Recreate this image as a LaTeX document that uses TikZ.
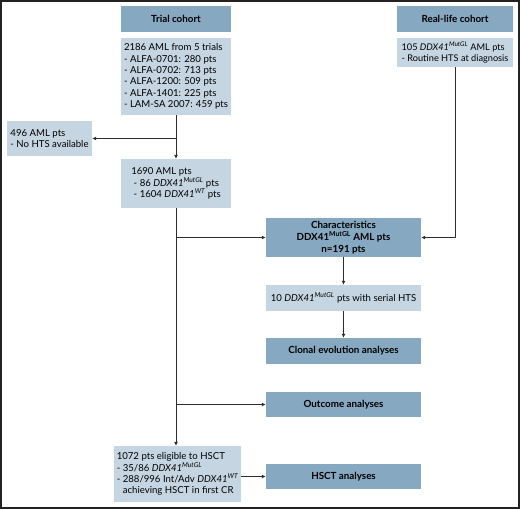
\documentclass[tikz,border=0pt]{standalone}
\usepackage{fontspec}
\setmainfont{Lato}
\usetikzlibrary{arrows.meta, positioning}
\definecolor{headblue}{RGB}{135, 168, 193}
\definecolor{boxblue}{RGB}{197, 213, 225}
\definecolor{linedark}{RGB}{45, 45, 45}
\definecolor{framedark}{RGB}{34, 34, 34}
\newcommand{\ddx}[1]{\textit{DDX41\textsuperscript{#1}}}

\begin{document}
\begin{tikzpicture}[
    x=1pt, y=-1pt,
    box/.style={rectangle, fill=boxblue, align=left, inner sep=2pt, font=\fontsize{9.6}{11.3}\selectfont, text=black},
    head/.style={rectangle, fill=headblue, align=center, inner sep=2pt, font=\fontsize{9.8}{12}\selectfont\bfseries, text=black},
    arrow/.style={-{Latex[length=4pt, width=4pt]}, line width=0.8pt, color=linedark},
]
\useasboundingbox (0,0) rectangle (520,509);
\draw[framedark, line width=2pt] (1,1) rectangle (518.5,507.5);

% Trial cohort
\node[head, minimum width=110pt, minimum height=26pt] (trial) at (176, 19) {Trial cohort};
\node[box, minimum width=110pt, minimum height=77pt] (triallist) at (176, 76.5) {2186 AML from 5 trials\\- ALFA-0701: 280 pts\\- ALFA-0702: 713 pts\\- ALFA-1200: 509 pts\\- ALFA-1401: 225 pts\\- LAM-SA 2007: 459 pts};
\node[box, minimum width=85pt, minimum height=35pt] (nohts) at (49.5, 138.5) {496 AML pts\\- No HTS available\hspace{6pt}};
\node[box, minimum width=110pt, minimum height=49pt] (aml) at (176, 183.5) {1690 AML pts\\\ - 86 \ddx{MutGL} pts\\\ - 1604 \ddx{WT} pts};

% Real-life cohort
\node[head, minimum width=116pt, minimum height=26pt] (real) at (455, 19) {Real-life cohort};
\node[box, minimum width=116pt, minimum height=29pt, inner sep=1pt, font=\fontsize{9.2}{11.3}\selectfont] (reallist) at (455, 52.5) {105 \ddx{MutGL} AML pts\\- Routine HTS at diagnosis};

% Analyses
\node[head, minimum width=155pt, minimum height=39pt] (charac) at (343.5, 237.5) {Characteristics\\DDX41\textsuperscript{MutGL} AML pts\\n=191 pts};
\node[box, align=center, minimum width=155pt, minimum height=26pt] (serial) at (343.5, 298) {10 \ddx{MutGL} pts with serial HTS};
\node[head, minimum width=155pt, minimum height=26pt] (clonal) at (343.5, 351) {Clonal evolution analyses};
\node[head, minimum width=155pt, minimum height=25pt] (outcome) at (343.5, 404.5) {Outcome analyses};
\node[box, minimum width=127pt, minimum height=56pt] (eligible) at (177.5, 474) {1072 pts eligible to HSCT\\- 35/86 \ddx{MutGL}\\- 288/996 Int/Adv \ddx{WT}\\\phantom{- }achieving HSCT in first CR};
\node[head, minimum width=155pt, minimum height=25pt] (hsct) at (343.5, 476.5) {HSCT analyses};

% Connectors
\draw[arrow] (triallist.south) -- (aml.north);
\draw[arrow] (triallist.south |- nohts.east) -- (nohts.east);
\draw[arrow] (aml.south) -- (aml.south |- eligible.north);
\draw[arrow] (aml.south |- charac.west) -- (charac.west);
\draw[arrow] (aml.south |- outcome.west) -- (outcome.west);
\draw[arrow] (reallist.south) |- (charac.east);
\draw[arrow] (charac) -- (serial);
\draw[arrow] (serial) -- (clonal);
\draw[arrow] (eligible.east |- hsct.west) -- (hsct.west);

\end{tikzpicture}
\end{document}
